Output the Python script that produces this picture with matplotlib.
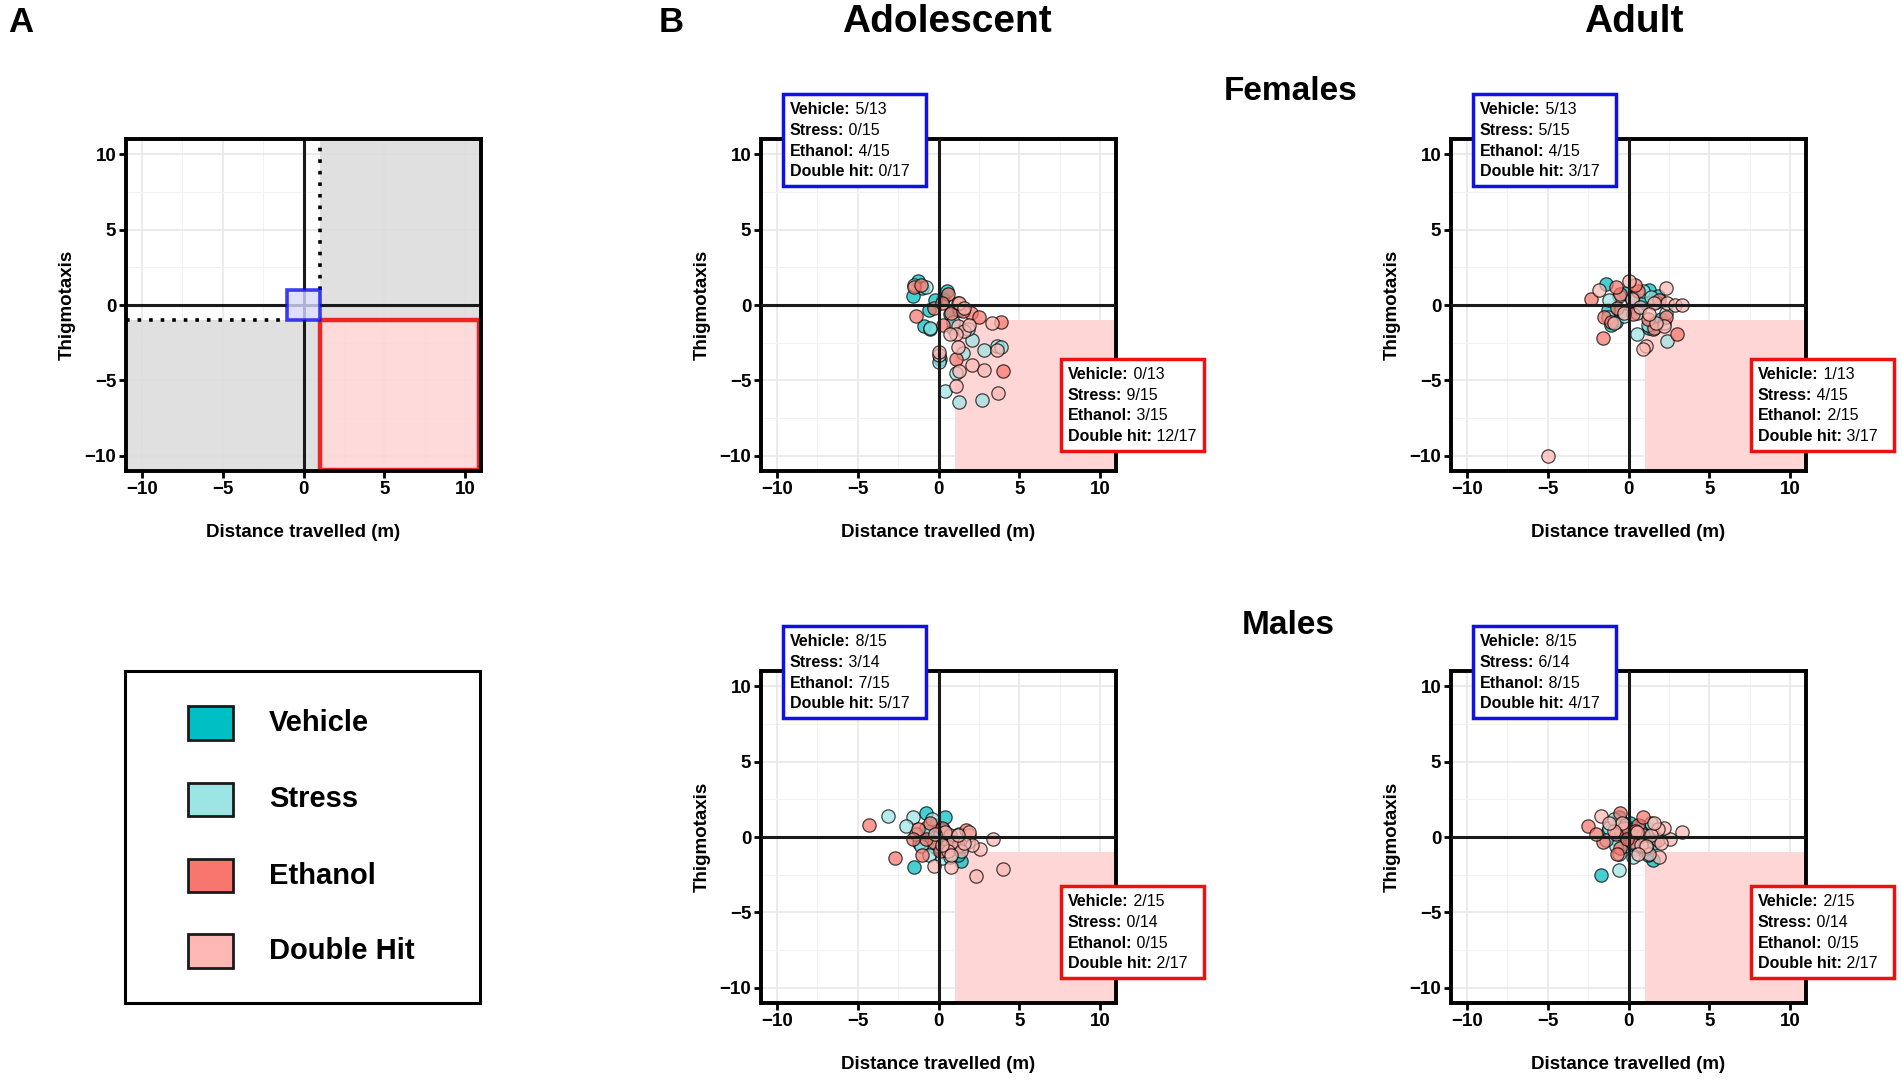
import numpy as np
import matplotlib.pyplot as plt
from matplotlib.patches import Rectangle

plt.rcParams['font.family'] = ['Liberation Sans', 'DejaVu Sans']

# groups and colours
groups = ['Vehicle', 'Stress', 'Ethanol', 'Double Hit']
box_names = ['Vehicle', 'Stress', 'Ethanol', 'Double hit']
colors = ['#00BFC4', '#9DE5E5', '#F8766D', '#FDB8B3']

# adolescent females (distance, thigmotaxis)
ado_fem_vehicle = [(-1.3, 1.6), (-1.0, 1.1), (0.3, 0.4), (-0.6, -0.3), (0.7, -0.6), (-0.2, 0.3),
                   (0.5, 0.9), (1.3, -0.3), (-0.9, -1.4), (-0.5, -1.6), (0.1, -3.6), (0.9, -1.5),
                   (-1.6, 0.6)]
ado_fem_stress = [(-1.5, 1.3), (-0.8, 1.2), (-0.5, -1.5), (0.0, -3.8), (0.4, -5.7), (0.9, -1.1),
                  (2.1, -2.3), (2.8, -3.0), (3.6, -2.7), (3.9, -2.8), (1.3, -6.4), (2.7, -6.3),
                  (1.5, -3.2), (1.1, -4.5), (1.8, -1.6)]
ado_fem_ethanol = [(3.9, -1.1), (4.0, -4.4), (1.1, -3.6), (0.6, 0.7), (-0.3, -0.2), (0.8, -0.5),
                   (0.2, 0.1), (-1.5, 1.2), (-1.4, -0.7), (2.0, -0.5), (1.5, -0.4), (-1.1, 1.3),
                   (2.5, -0.8), (0.3, -1.3), (1.2, 0.1)]
ado_fem_double = [(1.2, -1.4), (1.6, -1.7), (1.1, -1.9), (1.9, -1.3), (3.3, -1.2), (1.2, -2.8),
                  (1.3, -4.4), (2.1, -4.0), (2.8, -4.3), (3.7, -5.8), (1.1, -5.4), (3.6, -3.0),
                  (1.3, 0.1), (1.6, -0.2), (0.0, -3.3), (0.0, -3.1), (0.7, -1.9)]

# adult females
adu_fem_vehicle = [(-1.4, 1.4), (1.3, 1.0), (-1.1, -1.3), (0.3, 0.5), (-0.5, -0.4), (0.6, -0.2),
                   (-0.2, 0.8), (0.8, 0.3), (1.3, -1.5), (-1.3, -0.3), (1.8, 0.6), (2.0, -0.9),
                   (-0.8, -1.1)]
adu_fem_stress = [(0.2, 0.3), (-0.6, 0.6), (0.5, -0.5), (-0.3, -0.7), (0.9, 0.9), (2.4, -2.4),
                  (1.5, -1.6), (2.2, -1.2), (1.2, -1.3), (0.5, -1.9), (-1.3, -0.8), (1.7, 0.2),
                  (-1.2, 0.3), (1.4, 0.5), (2.3, -0.5)]
adu_fem_ethanol = [(-0.5, 0.7), (0.6, 0.9), (0.3, -0.6), (-0.7, -0.2), (3.0, -1.9), (1.6, -1.5),
                   (-2.3, 0.4), (-1.5, -0.8), (-1.6, -2.2), (-0.8, 1.2), (1.9, 0.3), (-1.1, -1.1),
                   (2.3, -0.8), (1.2, -0.9), (0.4, 1.3)]
adu_fem_double = [(1.1, -2.7), (2.2, -1.4), (1.7, -1.2), (0.2, 0.4), (-0.3, -0.5), (0.7, -0.1),
                  (-5.0, -10.0), (-1.8, 1.0), (0.0, 1.6), (2.3, 1.1), (2.4, 0.1), (2.9, 0.0),
                  (3.3, 0.0), (0.9, -2.9), (1.6, 0.1), (-0.9, -1.2), (1.3, -0.6)]

# adolescent males
ado_mal_vehicle = [(-0.2, 0.8), (0.3, 0.5), (-0.5, -0.4), (0.6, -0.2), (0.1, 0.1), (-0.7, 0.3),
                   (0.8, -0.7), (-0.1, -0.8), (1.4, -1.6), (1.2, -1.2), (-0.8, 1.6), (-1.5, -2.0),
                   (0.4, 1.3), (-1.2, -0.4), (1.5, -0.6)]
ado_mal_stress = [(-0.3, -0.6), (0.4, 0.2), (-0.8, 0.6), (-3.1, 1.4), (-1.6, 1.3), (-2.0, 0.7),
                  (0.2, -1.4), (-1.1, -0.6), (-0.4, 1.2), (1.3, 0.2), (0.7, -1.3), (-1.4, 0.2),
                  (1.8, -0.3), (-0.6, -1.2)]
ado_mal_ethanol = [(-0.5, 0.9), (0.2, 0.6), (-0.3, -0.3), (0.7, 0.1), (0.5, -0.6), (-0.8, -0.1),
                   (0.1, -0.9), (-4.3, 0.8), (-2.7, -1.4), (-1.0, -1.2), (-1.3, 0.5), (-1.6, -0.15),
                   (1.7, 0.45), (1.2, -0.6), (1.9, 0.1)]
ado_mal_double = [(0.4, 0.3), (0.9, -0.3), (-0.2, 0.2), (0.6, -0.9), (0.2, -0.5), (2.3, -2.6),
                  (4.0, -2.1), (-0.3, -1.9), (0.8, -2.0), (3.4, -0.15), (2.6, -0.8), (1.9, 0.3),
                  (2.1, -0.5), (1.4, -0.9), (1.6, -0.4), (0.8, -1.2), (1.2, 0.1)]

# adult males
adu_mal_vehicle = [(0.2, 0.5), (-0.4, 0.3), (0.6, -0.2), (-0.2, -0.6), (0.8, 0.7), (0.1, 0.9),
                   (-0.7, -0.1), (0.4, -0.8), (1.5, -1.5), (1.2, -1.2), (-1.7, -2.5), (-1.3, 0.4),
                   (1.3, 0.5), (-0.6, 1.3), (1.6, -0.4)]
adu_mal_stress = [(-0.5, 0.5), (0.3, 0.2), (-0.8, -0.6), (0.7, 0.4), (0.5, -0.5), (-0.2, 0.8),
                  (-0.6, -2.2), (-0.6, -1.1), (-1.2, 0.6), (1.4, 0.9), (-1.4, -0.2), (1.1, -0.7),
                  (0.3, -1.3), (-0.9, 1.2)]
adu_mal_ethanol = [(-0.3, 0.6), (0.6, 0.8), (0.2, -0.3), (-0.8, 0.2), (0.9, 0.1), (-0.5, -0.7),
                   (0.4, 0.4), (-0.1, -0.1), (-2.5, 0.7), (-1.6, -0.3), (-0.5, 1.6), (0.9, 1.3),
                   (-0.7, -1.1), (-2.0, 0.2), (1.8, -0.2)]
adu_mal_double = [(0.5, 0.3), (-0.4, 0.9), (0.8, -0.5), (-0.9, 0.4), (1.9, -1.3), (1.3, -1.1),
                  (-1.7, 1.4), (3.3, 0.3), (2.6, -0.15), (2.2, 0.6), (1.8, 0.5), (1.4, 0.1),
                  (-1.2, 0.9), (1.1, -0.6), (0.6, -1.1), (2.0, -0.4), (1.6, 0.9)]

# counts inside the blue (centre) and red (lower right) boxes
ado_fem_inner = ['5/13', '0/15', '4/15', '0/17']
ado_fem_outer = ['0/13', '9/15', '3/15', '12/17']
adu_fem_inner = ['5/13', '5/15', '4/15', '3/17']
adu_fem_outer = ['1/13', '4/15', '2/15', '3/17']
ado_mal_inner = ['8/15', '3/14', '7/15', '5/17']
ado_mal_outer = ['2/15', '0/14', '0/15', '2/17']
adu_mal_inner = ['8/15', '6/14', '8/15', '4/17']
adu_mal_outer = ['2/15', '0/14', '0/15', '2/17']

W, H = 1902, 1080
AXW, AXH = 355, 332   # axes size in pixels

fig = plt.figure(figsize=(W / 100, H / 100), dpi=100)


def style_axes(ax):
    ax.set_xlim(-11, 11)
    ax.set_ylim(-11, 11)
    ax.set_xticks([-10, -5, 0, 5, 10])
    ax.set_yticks([-10, -5, 0, 5, 10])
    ax.set_xticks([-7.5, -2.5, 2.5, 7.5], minor=True)
    ax.set_yticks([-7.5, -2.5, 2.5, 7.5], minor=True)
    ax.set_axisbelow(True)
    ax.grid(which='major', color='#E6E6E6', lw=1.1)
    ax.grid(which='minor', color='#F2F2F2', lw=0.7)
    ax.tick_params(which='minor', length=0)
    ax.tick_params(which='major', length=5, width=2, labelsize=13.5, pad=2)
    for lab in ax.get_xticklabels() + ax.get_yticklabels():
        lab.set_fontweight('bold')
    for sp in ax.spines.values():
        sp.set_linewidth(2.8)
    ax.set_xlabel('Distance travelled (m)', fontsize=13.5, fontweight='bold', labelpad=19)
    ax.set_ylabel('Thigmotaxis', fontsize=13.5, fontweight='bold', labelpad=6)


def count_box(ax, x0, ytop, values, edge):
    w, h = 143 / AXW, 92 / AXH
    ax.add_patch(Rectangle((x0, ytop - h), w, h, transform=ax.transAxes, facecolor='white',
                           edgecolor=edge, lw=2.5, clip_on=False, zorder=10))
    for i, (name, val) in enumerate(zip(box_names, values)):
        yc = ytop - (15.8 + 20.6 * i) / AXH
        t = ax.text(x0 + 7 / AXW, yc, name + ':', transform=ax.transAxes, fontsize=11.5,
                    fontweight='bold', va='center', ha='left', zorder=11)
        ax.annotate(' ' + val, xy=(1, 0.5), xycoords=t, fontsize=11.5, va='center', ha='left',
                    zorder=11)


def scatter_panel(ax, data, inner, outer, red_bottom):
    style_axes(ax)
    ax.add_patch(Rectangle((1, -11), 10, 10, facecolor='#FFD6D6', edgecolor='none', zorder=0.8))
    for pts, c in zip(data, colors):
        xy = np.array(pts)
        ax.scatter(xy[:, 0], xy[:, 1], s=92, c=c, alpha=0.72, edgecolors='black',
                   linewidths=0.9, zorder=2)
    ax.axhline(0, color='#1A1A1A', lw=2.2, zorder=3)
    ax.axvline(0, color='#1A1A1A', lw=2.2, zorder=3)
    count_box(ax, 22 / AXW, 1 + 45 / AXH, inner, '#1010E8')
    count_box(ax, 300 / AXW, (red_bottom + 92) / AXH, outer, '#EE1111')


top_b = 1 - 471 / H
bot_b = 1 - 1003 / H
axw, axh = AXW / W, AXH / H

# panel A
axA = fig.add_axes([126 / W, top_b, axw, axh])
style_axes(axA)
axA.add_patch(Rectangle((1, -1), 10, 12, facecolor='#DDDDDD', edgecolor='none', alpha=0.9, zorder=0.8))
axA.add_patch(Rectangle((-11, -11), 12, 10, facecolor='#DDDDDD', edgecolor='none', alpha=0.9, zorder=0.8))
axA.plot([1, 1], [1, 11], color='black', lw=2.6, ls=(0, (1, 2.2)), zorder=1.5)
axA.plot([-11, -1], [-1, -1], color='black', lw=2.6, ls=(0, (1, 2.2)), zorder=1.5)
axA.axhline(0, color='#1A1A1A', lw=2.2, zorder=1.6)
axA.axvline(0, color='#1A1A1A', lw=2.2, zorder=1.6)
axA.add_patch(Rectangle((1, -10.95), 9.9, 9.95, facecolor='#FFD6D6', alpha=0.9, edgecolor='#EE1111',
                        lw=3.2, zorder=2))
axA.add_patch(Rectangle((-1, -1), 2, 2, facecolor='#D8D8FF', alpha=0.8, edgecolor='#1010E8',
                        lw=2.6, zorder=2))

# legend panel
axL = fig.add_axes([125 / W, bot_b, axw, axh])
axL.set_xlim(0, 1)
axL.set_ylim(0, 1)
axL.set_xticks([])
axL.set_yticks([])
for sp in axL.spines.values():
    sp.set_linewidth(2.2)
row_y = [0.844, 0.613, 0.384, 0.156]
for yc, name, c in zip(row_y, groups, colors):
    axL.add_patch(Rectangle((0.177, yc - 0.051), 0.127, 0.102, facecolor=c, edgecolor='#1A1A1A', lw=2))
    axL.text(0.405, yc, name, fontsize=21, fontweight='bold', va='center', ha='left')

# panel B
ax1 = fig.add_axes([761 / W, top_b, axw, axh])
scatter_panel(ax1, [ado_fem_vehicle, ado_fem_stress, ado_fem_ethanol, ado_fem_double],
              ado_fem_inner, ado_fem_outer, 20)
ax2 = fig.add_axes([1451 / W, top_b, axw, axh])
scatter_panel(ax2, [adu_fem_vehicle, adu_fem_stress, adu_fem_ethanol, adu_fem_double],
              adu_fem_inner, adu_fem_outer, 20)
ax3 = fig.add_axes([761 / W, bot_b, axw, axh])
scatter_panel(ax3, [ado_mal_vehicle, ado_mal_stress, ado_mal_ethanol, ado_mal_double],
              ado_mal_inner, ado_mal_outer, 25)
ax4 = fig.add_axes([1451 / W, bot_b, axw, axh])
scatter_panel(ax4, [adu_mal_vehicle, adu_mal_stress, adu_mal_ethanol, adu_mal_double],
              adu_mal_inner, adu_mal_outer, 25)

# headings
fig.text(8 / W, 1 - 6 / H, 'A', fontsize=25, fontweight='bold', va='top', ha='left')
fig.text(659 / W, 1 - 6 / H, 'B', fontsize=25, fontweight='bold', va='top', ha='left')
fig.text(947 / W, 1 - 22 / H, 'Adolescent', fontsize=28, fontweight='bold', va='center', ha='center')
fig.text(1634 / W, 1 - 22 / H, 'Adult', fontsize=28, fontweight='bold', va='center', ha='center')
fig.text(1291 / W, 1 - 91 / H, 'Females', fontsize=24, fontweight='bold', va='center', ha='center')
fig.text(1288 / W, 1 - 625 / H, 'Males', fontsize=24, fontweight='bold', va='center', ha='center')

fig.savefig('out.png', dpi=100)
